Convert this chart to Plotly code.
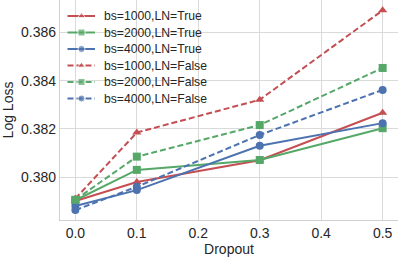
import plotly.graph_objects as go

dropout = [0.0, 0.1, 0.3, 0.5]
series_names = ["bs=1000,LN=True", "bs=2000,LN=True", "bs=4000,LN=True",
                "bs=1000,LN=False", "bs=2000,LN=False", "bs=4000,LN=False"]
bs1000_ln_true = [0.37901, 0.37980, 0.38070, 0.38267]
bs2000_ln_true = [0.37904, 0.38030, 0.38071, 0.38203]
bs4000_ln_true = [0.37880, 0.37946, 0.38130, 0.38224]
bs1000_ln_false = [0.37911, 0.38185, 0.38321, 0.38692]
bs2000_ln_false = [0.37906, 0.38085, 0.38216, 0.38453]
bs4000_ln_false = [0.37863, 0.37960, 0.38175, 0.38362]
y_ticks = [0.380, 0.382, 0.384, 0.386]
x_ticks = [0.0, 0.1, 0.2, 0.3, 0.4, 0.5]

values = [bs1000_ln_true, bs2000_ln_true, bs4000_ln_true,
          bs1000_ln_false, bs2000_ln_false, bs4000_ln_false]
colors = ["#C44E52", "#55A868", "#4C72B0"] * 2
symbols = ["triangle-up", "square", "circle"] * 2
dashes = ["solid"] * 3 + ["6px,3px"] * 3

FONT = "Liberation Sans, Arial, sans-serif"
TXT = "#262626"

# plot area in pixels (for the hand-made legend placement)
W, H = 399, 257
ML, MR, MT, MB = 60, 1, 0, 37
PW, PH = W - ML - MR, H - MT - MB

def fx(px):
    return (px - ML) / PW

def fy(py):
    return 1 - (py - MT) / PH

fig = go.Figure()
for name, vals, c, s, d in zip(series_names, values, colors, symbols, dashes):
    fig.add_trace(go.Scatter(
        x=dropout, y=vals, name=name, mode="lines+markers",
        line=dict(color=c, width=2, dash=d),
        marker=dict(color=c, symbol=s, size=8),
        showlegend=False,
    ))

# legend (drawn on an overlay axis so it can be spaced like the reference)
row0, step = 16, 16.5
annotations = []
for i, (name, c, s, d) in enumerate(zip(series_names, colors, symbols, dashes)):
    yy = fy(row0 + i * step)
    fig.add_trace(go.Scatter(
        x=[fx(67.5), fx(81.5), fx(95)], y=[yy, yy, yy],
        xaxis="x2", yaxis="y2", mode="lines+markers",
        line=dict(color=c, width=2, dash=d),
        marker=dict(color=c, symbol=s, size=[0, 7, 0]),
        showlegend=False, hoverinfo="skip",
    ))
    annotations.append(dict(
        x=fx(102), y=yy, xref="x2", yref="y2", text=name, showarrow=False,
        xanchor="left", yanchor="middle",
        font=dict(family=FONT, size=12.2, color=TXT),
    ))

axis_common = dict(
    showgrid=True, gridcolor="#dadada", gridwidth=1,
    showline=True, linecolor="#d0d0d0", linewidth=1.2, mirror=False,
    zeroline=False, ticks="", automargin=False,
    tickfont=dict(family=FONT, size=14, color=TXT),
)

fig.update_layout(
    width=W, height=H,
    margin=dict(l=ML, r=MR, t=MT, b=MB),
    paper_bgcolor="white", plot_bgcolor="white",
    font=dict(family=FONT, size=14, color=TXT),
    xaxis=dict(axis_common, range=[-0.025, 0.525], tickvals=x_ticks,
               ticktext=[f"{v:.1f}" for v in x_ticks],
               title=dict(text="Dropout", standoff=5, font=dict(size=14))),
    yaxis=dict(axis_common, range=[0.37822, 0.38735], tickvals=y_ticks,
               ticktext=[f"{v:.3f}" for v in y_ticks],
               title=dict(text="Log Loss", standoff=6, font=dict(size=14))),
    xaxis2=dict(overlaying="x", range=[0, 1], visible=False, fixedrange=True),
    yaxis2=dict(overlaying="y", range=[0, 1], visible=False, fixedrange=True),
    annotations=annotations,
    showlegend=False,
)

fig.write_html("out.html",
               config={"displayModeBar": False},
               post_script="document.body.style.margin='0';document.body.style.overflow='hidden';")
